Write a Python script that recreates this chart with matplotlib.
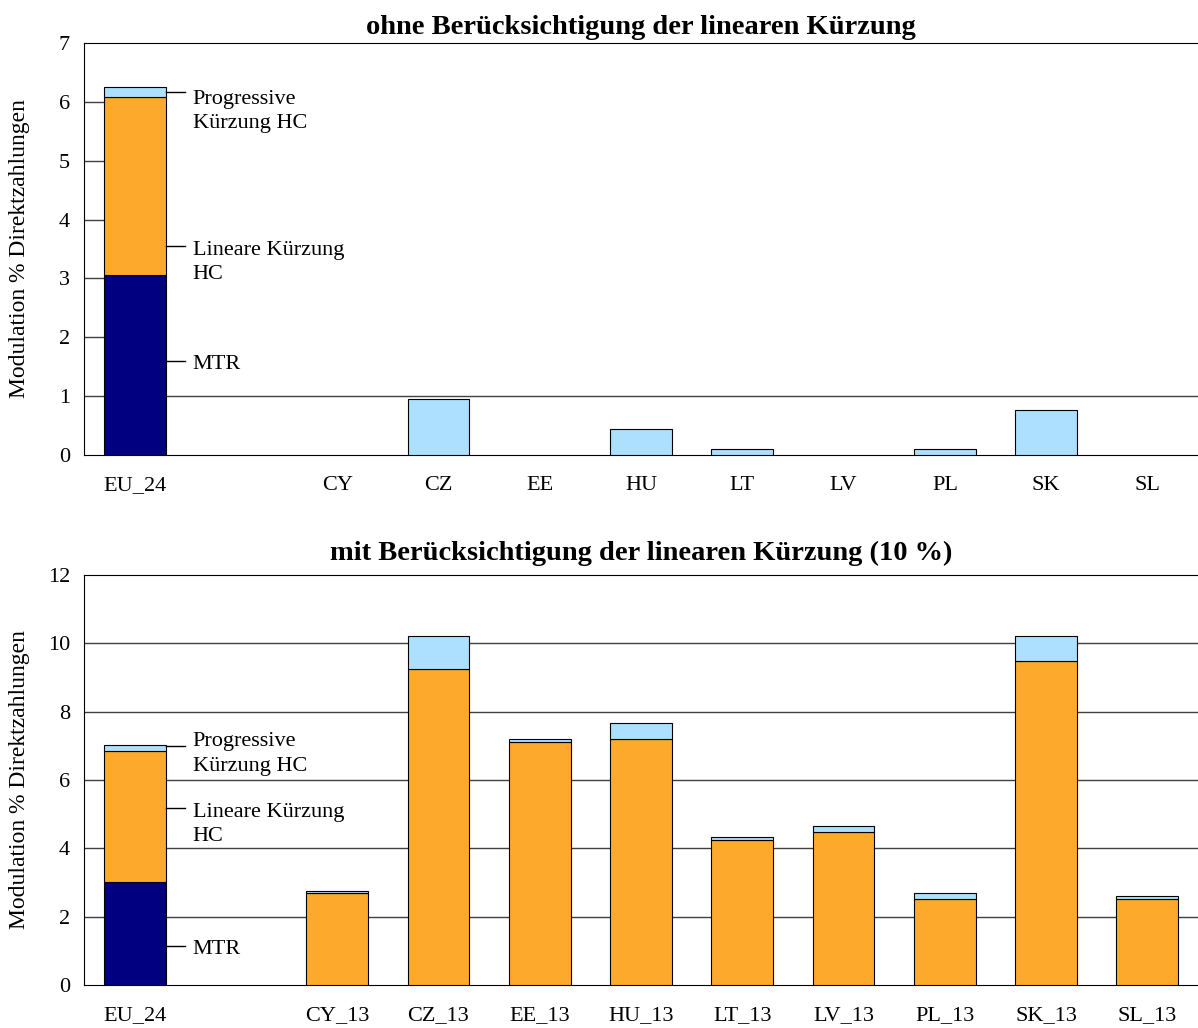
import matplotlib
matplotlib.use("Agg")
import matplotlib.pyplot as plt
import numpy as np

plt.rcParams["font.family"] = ["Liberation Serif", "DejaVu Serif"]

# --- data -------------------------------------------------------------
labels_top = ["EU_24", "", "CY", "CZ", "EE", "HU", "LT", "LV", "PL", "SK", "SL"]
mtr_top = [3.05, 0, 0, 0, 0, 0, 0, 0, 0, 0, 0]
linear_top = [3.04, 0, 0, 0, 0, 0, 0, 0, 0, 0, 0]
prog_top = [0.17, 0, 0, 0.95, 0, 0.45, 0.10, 0, 0.10, 0.76, 0]

labels_bot = ["EU_24", "", "CY_13", "CZ_13", "EE_13", "HU_13", "LT_13",
              "LV_13", "PL_13", "SK_13", "SL_13"]
mtr_bot = [3.02, 0, 0, 0, 0, 0, 0, 0, 0, 0, 0]
linear_bot = [3.84, 0, 2.68, 9.24, 7.10, 7.20, 4.24, 4.49, 2.52, 9.48, 2.52]
prog_bot = [0.15, 0, 0.08, 0.98, 0.09, 0.48, 0.08, 0.15, 0.16, 0.74, 0.08]

series_names = ["MTR", "Lineare Kürzung\nHC", "Progressive\nKürzung HC"]
colors = ["#000080", "#FDAA2C", "#ADDFFF"]
grid_col = "#404040"

fig = plt.figure(figsize=(11.98, 10.28), dpi=100)
ax1 = fig.add_axes([84 / 1198, 1 - 455 / 1028, 1 - 84 / 1198, 412 / 1028])
ax2 = fig.add_axes([84 / 1198, 1 - 985 / 1028, 1 - 84 / 1198, 410 / 1028])

width = 0.61


def draw(ax, labels, mtr, linear, prog, ymax, title, ann_y, ann_off, title_pad):
    x = np.arange(len(labels))
    bottom = np.zeros(len(labels))
    for vals, col in zip([mtr, linear, prog], colors):
        vals = np.array(vals)
        keep = vals > 0
        ax.bar(x[keep], vals[keep], width, bottom=bottom[keep], color=col,
               edgecolor="black", lw=0.8, zorder=3)
        bottom += vals
    ax.set_xlim(-0.5, len(labels) - 0.5)
    ax.set_ylim(0, ymax)
    ax.set_xticks(x)
    ax.set_xticklabels(labels, fontsize=16)
    ax.tick_params(axis="both", length=0, labelsize=16)
    ax.tick_params(axis="x", pad=15)
    ax.tick_params(axis="y", pad=10)
    ax.spines["right"].set_visible(False)
    ax.set_title(title, fontsize=20.5, fontweight="bold", pad=title_pad)
    ax.set_ylabel("Modulation % Direktzahlungen", fontsize=17)
    ax.yaxis.set_label_coords(-0.0485, 0.5)

    # leader lines + labels next to the EU_24 bar
    for i, (name, yy, off) in enumerate(zip(series_names, ann_y, ann_off)):
        ax.plot([width / 2, 0.5], [yy, yy], color="black", lw=1, zorder=4)
        box = None
        if i == 2:
            box = dict(facecolor="white", edgecolor="none", pad=1)
        ax.annotate(name, (0.575, yy), xytext=(0, off), textcoords="offset points",
                    fontsize=16, va="top", ha="left", zorder=5, linespacing=1.4,
                    bbox=box)


draw(ax1, labels_top, mtr_top, linear_top, prog_top, 7,
     "ohne Berücksichtigung der linearen Kürzung", [1.6, 3.55, 6.17],
     [4, 4, 1.5], 6.5)
ax1.set_yticks(range(0, 8))
# top chart: only the 1-line runs across, the others stop at the first bar
ax1.axhline(1, color=grid_col, lw=1, zorder=1)
ax1.hlines(range(2, 7), -0.5, -width / 2, color=grid_col, lw=1, zorder=1)

draw(ax2, labels_bot, mtr_bot, linear_bot, prog_bot, 12,
     "mit Berücksichtigung der linearen Kürzung (10 %)", [1.14, 5.17, 7.0],
     [4, 4, 10], 11)
ax2.set_yticks(range(0, 13, 2))
ax2.hlines(range(2, 11, 2), -0.5, 10.5, color=grid_col, lw=1, zorder=1)

fig.savefig("out.png", dpi=100)
